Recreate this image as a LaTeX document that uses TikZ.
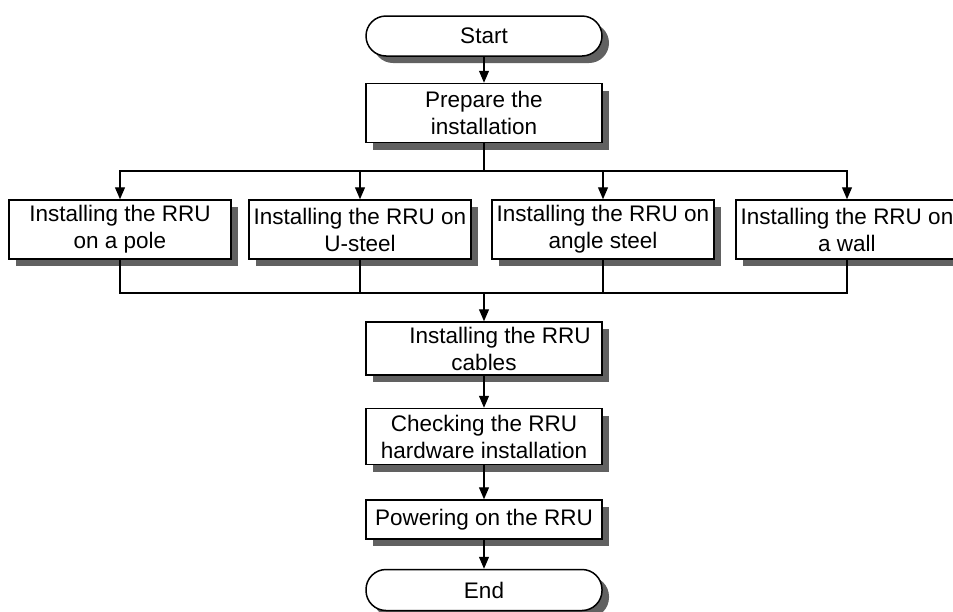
\documentclass[tikz,border=0pt]{standalone}
\usepackage{fontspec}
\setmainfont{Liberation Sans}
\usetikzlibrary{arrows.meta,positioning,shadows}

\begin{document}
\begin{tikzpicture}[x=1pt, y=-1pt,
  box/.style={draw, line width=1.5pt, fill=white, align=center, inner sep=2pt,
              font=\fontsize{22.5pt}{27pt}\selectfont,
              minimum width=236pt, minimum height=56pt,
              drop shadow={shadow xshift=7pt, shadow yshift=-7pt, fill=black!62, opacity=1}},
  way/.style={box, minimum width=222pt, minimum height=59pt},
  term/.style={box, rounded corners=20pt, minimum height=40pt},
  arr/.style={-{Triangle[length=12pt, width=10pt]}, line width=1.1pt},
  line/.style={line width=1.1pt}]
\useasboundingbox (0,0) rectangle (953,611);
\node[term] (start) at (484,36) {Start};
\node[box, minimum height=59pt, below=26pt of start] (prep) {Prepare the\\installation};
\node[way] (pole) at (120,229.5) {Installing the RRU\\on a pole};
\node[way] (usteel) at (360,229.5) {Installing the RRU on\\U-steel};
\node[way] (angle) at (603,229.5) {Installing the RRU on\\angle steel};
\node[way] (wall) at (847,229.5) {Installing the RRU on\\a wall};
\node[box, minimum height=53pt] (cables) at (484,348.5) {\hspace*{32pt}Installing the RRU\\cables};
\node[box, below=32pt of cables] (check) {Checking the RRU\\hardware installation};
\node[box, minimum height=39pt, below=34pt of check] (power) {Powering on the RRU};
\node[term, minimum height=41pt, below=29pt of power] (end) {End};
\coordinate (split) at (484,171);
\coordinate (merge) at (484,293);
\draw[arr] (start) -- (prep);
\draw[line] (prep.south) -- (split);
\draw[arr] (split) -| (pole.north);
\draw[arr] (split) -| (usteel.north);
\draw[arr] (split) -| (angle.north);
\draw[arr] (split) -| (wall.north);
\draw[line] (pole.south) |- (merge);
\draw[line] (usteel.south) |- (merge);
\draw[line] (angle.south) |- (merge);
\draw[line] (wall.south) |- (merge);
\draw[arr] (merge) -- (cables);
\draw[arr] (cables) -- (check);
\draw[arr] (check) -- (power);
\draw[arr] (power) -- (end);
\end{tikzpicture}
\end{document}
